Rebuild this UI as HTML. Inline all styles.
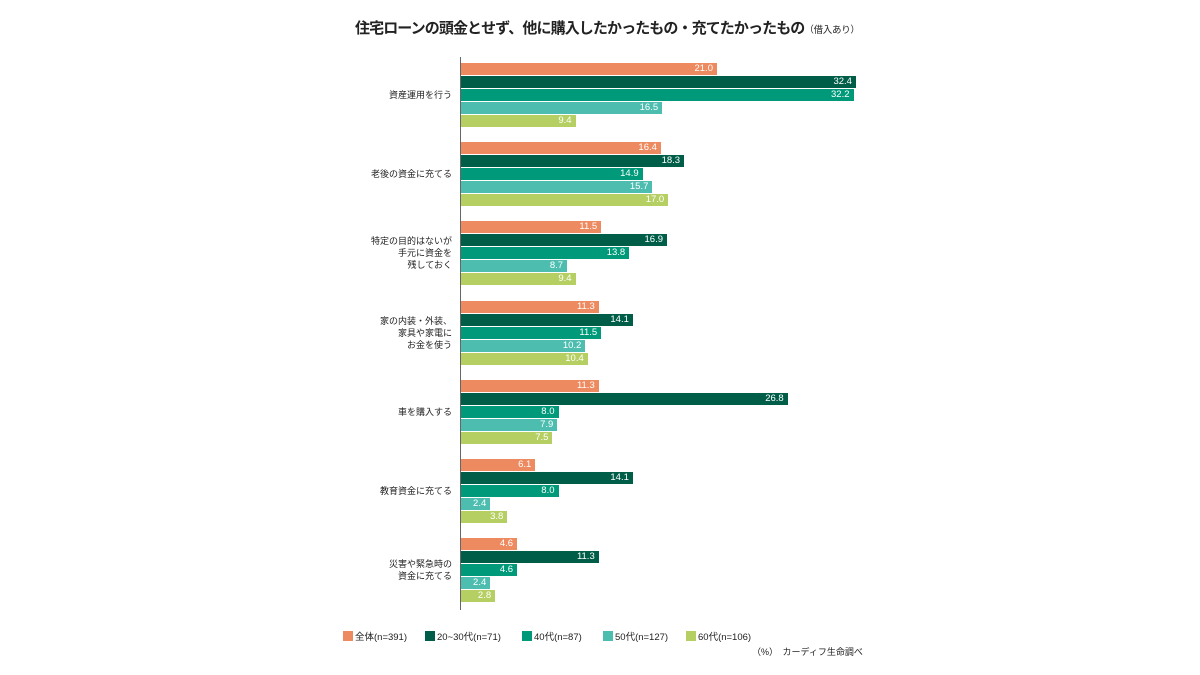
<!DOCTYPE html>
<html><head><meta charset="utf-8"><style>
body{margin:0;width:1200px;height:675px;background:#fff;position:relative;overflow:hidden;font-family:"Liberation Sans","Noto Sans CJK JP",sans-serif;color:#222}
.t{position:absolute;left:355px;top:17px;font-size:15px;font-weight:bold;white-space:nowrap;letter-spacing:-0.9px}
.t small{font-size:9.5px;font-weight:normal;letter-spacing:-0.3px}
.ax{position:absolute;left:460px;top:57px;width:1px;height:553px;background:#666}
.b{position:absolute;left:461px;height:12px;color:#fff;font-size:9.5px;line-height:12px;text-align:right;box-sizing:border-box;padding-right:4px}
.l{position:absolute;right:748px;font-size:9px;line-height:12px;text-align:right;white-space:nowrap}
.lg{position:absolute;top:631px;font-size:9.5px;line-height:11px;white-space:nowrap}
.lg i{display:inline-block;width:10px;height:10px;vertical-align:-1px;margin-right:2px}
.c0{background:#EE8A5F}.c1{background:#005E48}.c2{background:#009A7A}.c3{background:#4DBDB0}.c4{background:#B5CF62}
</style></head><body>
<div class="t">住宅ローンの頭金とせず、他に購入したかったもの・充てたかったもの<small>（借入あり）</small></div>
<div class="ax"></div>
<div id="c"></div>
<div class="lg" style="left:343px"><i class="c0"></i>全体(n=391)</div>
<div class="lg" style="left:425px"><i class="c1"></i>20~30代(n=71)</div>
<div class="lg" style="left:522px"><i class="c2"></i>40代(n=87)</div>
<div class="lg" style="left:603px"><i class="c3"></i>50代(n=127)</div>
<div class="lg" style="left:686px"><i class="c4"></i>60代(n=106)</div>
<div class="lg" style="left:752px;top:647px;font-size:9px">（%）　カーディフ生命調べ</div>
<script>
var d=[["資産運用を行う",[21.0,32.4,32.2,16.5,9.4]],["老後の資金に充てる",[16.4,18.3,14.9,15.7,17.0]],["特定の目的はないが<br>手元に資金を<br>残しておく",[11.5,16.9,13.8,8.7,9.4]],["家の内装・外装、<br>家具や家電に<br>お金を使う",[11.3,14.1,11.5,10.2,10.4]],["車を購入する",[11.3,26.8,8.0,7.9,7.5]],["教育資金に充てる",[6.1,14.1,8.0,2.4,3.8]],["災害や緊急時の<br>資金に充てる",[4.6,11.3,4.6,2.4,2.8]]];
var h="";d.forEach(function(g,i){var y=63+i*79.2;g[1].forEach(function(v,j){h+='<div class="b c'+j+'" style="top:'+(y+j*13)+'px;width:'+(v*12.19)+'px">'+v.toFixed(1)+'</div>';});var n=g[0].split("<br>").length;h+='<div class="l" style="top:'+(y+32-n*6)+'px">'+g[0]+'</div>';});
document.getElementById("c").innerHTML=h;
</script>
</body></html>
